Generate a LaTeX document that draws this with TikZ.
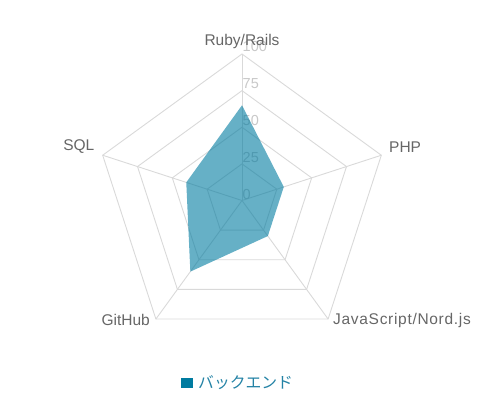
\documentclass[tikz,border=0pt]{standalone}
\usepackage{fontspec}
\setmainfont{Liberation Sans}
\newfontfamily\jpfont{Noto Sans CJK JP}
\definecolor{gridgray}{RGB}{217,217,217}
\definecolor{labelgray}{RGB}{102,102,102}
\definecolor{tickgray}{RGB}{200,200,200}
\definecolor{seriesblue}{RGB}{0,123,160}
\definecolor{legendtext}{RGB}{35,130,165}
\begin{document}
\begin{tikzpicture}[x=1pt,y=-1pt,
  gridline/.style={draw=gridgray, line width=0.9pt},
  axislabel/.style={font=\fontsize{15.5}{18}\selectfont, text=labelgray, inner sep=0pt},
  ticklabel/.style={font=\fontsize{14.5}{17}\selectfont, text=tickgray, inner sep=0pt, anchor=west},
  datafill/.style={fill=seriesblue, fill opacity=0.6, draw=none}]
\useasboundingbox (0,0) rectangle (484,400);
\def\cx{242}\def\cy{200.5}\def\R{146.5}
\coordinate (c) at (\cx,\cy);
% grid rings
\foreach \k in {1,2,3,4}{
  \draw[gridline] ({\cx+\R*\k/4*cos(90)},{\cy-\R*\k/4*sin(90)})
    -- ({\cx+\R*\k/4*cos(18)},{\cy-\R*\k/4*sin(18)})
    -- ({\cx+\R*\k/4*cos(-54)},{\cy-\R*\k/4*sin(-54)})
    -- ({\cx+\R*\k/4*cos(-126)},{\cy-\R*\k/4*sin(-126)})
    -- ({\cx+\R*\k/4*cos(162)},{\cy-\R*\k/4*sin(162)}) -- cycle;
}
% spokes
\foreach \a/\n in {90/ruby,18/php,-54/js,-126/git,162/sql}{
  \coordinate (v\n) at ({\cx+\R*cos(\a)},{\cy-\R*sin(\a)});
  \draw[gridline] (c) -- (v\n);
}
% tick labels
\foreach \k/\t in {0/0,1/25,2/50,3/75,4/100}{
  \node[ticklabel] (tick\k) at (242.5,{195-37*\k}) {\t};
}
% data polygon
\coordinate (dr) at ({\cx+\R*0.65*cos(90)},{\cy-\R*0.65*sin(90)});
\coordinate (dp) at ({\cx+\R*0.30*cos(18)},{\cy-\R*0.30*sin(18)});
\coordinate (dj) at ({\cx+\R*0.30*cos(-54)},{\cy-\R*0.30*sin(-54)});
\coordinate (dg) at ({\cx+\R*0.60*cos(-126)},{\cy-\R*0.60*sin(-126)});
\coordinate (ds) at ({\cx+\R*0.40*cos(162)},{\cy-\R*0.40*sin(162)});
\path[datafill] (dr) -- (dp) -- (dj) -- (dg) -- (ds) -- cycle;
% axis labels
\node[axislabel, anchor=center] (lruby) at (242,41) {Ruby/Rails};
\node[axislabel, anchor=west] (lphp) at (389,147) {PHP};
\node[axislabel, anchor=west] (ljs) at (333,320) {\addfontfeature{LetterSpace=4.5}JavaScript/Nord.js};
\node[axislabel, anchor=east] (lgit) at (150,320) {GitHub};
\node[axislabel, anchor=east] (lsql) at (94.5,147) {SQL};
% legend
\node[fill=seriesblue, minimum width=12pt, minimum height=10pt, inner sep=0pt] (lbox) at (186.5,383) {};
\node[anchor=west, inner sep=0pt, text=legendtext, font=\jpfont\fontsize{15.8}{18}\selectfont] (ltext) at (198,383) {バックエンド};
\end{tikzpicture}
\end{document}
